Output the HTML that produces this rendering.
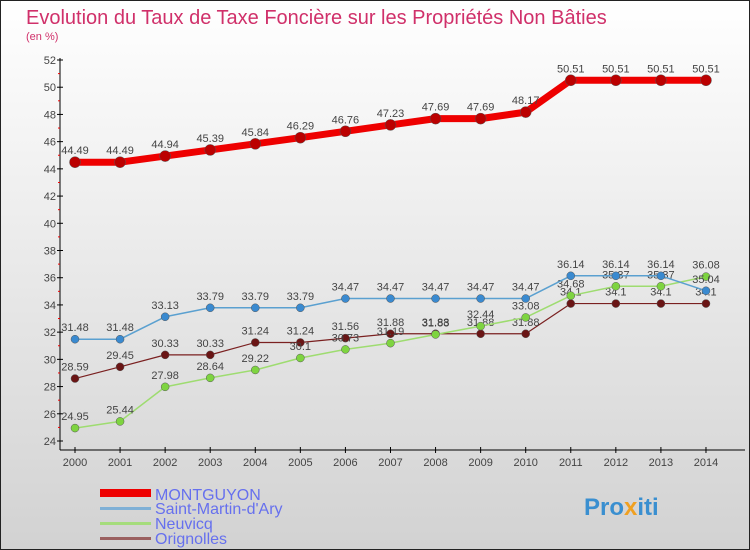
<!DOCTYPE html>
<html><head><meta charset="utf-8"><style>
body{margin:0;width:750px;height:550px;overflow:hidden;font-family:"Liberation Sans",sans-serif}
svg{display:block}
</style></head><body>
<svg id="c" width="750" height="550" xmlns="http://www.w3.org/2000/svg">
<defs><linearGradient id="bg" x1="0" y1="0" x2="0" y2="1"><stop offset="0" stop-color="#ffffff"/><stop offset="1" stop-color="#d2d2d2"/></linearGradient></defs>
<rect x="0.5" y="0.5" width="749" height="549" fill="url(#bg)" stroke="#222"/>
<text x="26" y="24" font-size="20" fill="#d0306a">Evolution du Taux de Taxe Foncière sur les Propriétés Non Bâties</text>
<text x="26" y="40" font-size="11" fill="#d0306a">(en %)</text>
<g id="axes"></g><g id="series"></g>
<g>
<rect x="100" y="489" width="51" height="8" fill="#e00"/>
<text x="155" y="500" font-size="16" fill="#6670ee">MONTGUYON</text>
<rect x="100" y="507" width="51" height="3" fill="#7fb0d6"/>
<text x="155" y="514" font-size="16" fill="#6670ee">Saint-Martin-d'Ary</text>
<rect x="100" y="522" width="51" height="3" fill="#a5dc7c"/>
<text x="155" y="529" font-size="16" fill="#6670ee">Neuvicq</text>
<rect x="100" y="537" width="51" height="3" fill="#9a6060"/>
<text x="155" y="544" font-size="16" fill="#6670ee">Orignolles</text>
</g>
<text x="584" y="515" font-size="24" font-weight="bold" fill="#3a8fd0">Pro<tspan fill="#f0a020">x</tspan>iti</text>
</svg>
<script>
const years=[2000,2001,2002,2003,2004,2005,2006,2007,2008,2009,2010,2011,2012,2013,2014];
const montguyon=[44.49,44.49,44.94,45.39,45.84,46.29,46.76,47.23,47.69,47.69,48.17,50.51,50.51,50.51,50.51];
const saintMartin=[31.48,31.48,33.13,33.79,33.79,33.79,34.47,34.47,34.47,34.47,34.47,36.14,36.14,36.14,35.04];
const neuvicq=[24.95,25.44,27.98,28.64,29.22,30.1,30.73,31.19,31.83,32.44,33.08,34.68,35.37,35.37,36.08];
const orignolles=[28.59,29.45,30.33,30.33,31.24,31.24,31.56,31.88,31.88,31.88,31.88,34.1,34.1,34.1,34.1];
const yTicks=[24,26,28,30,32,34,36,38,40,42,44,46,48,50,52];
const NS="http://www.w3.org/2000/svg";
const X=i=>75+i*45.07, Y=v=>441-(v-24)*(381/28);
function mk(t,a,p){const e=document.createElementNS(NS,t);for(const k in a)e.setAttribute(k,a[k]);p.appendChild(e);return e;}
const ax=document.getElementById('axes');
let l=mk('line',{x1:60,y1:58,x2:60,y2:450,stroke:'#000'},ax);


l=mk('line',{x1:60,y1:450,x2:745,y2:450,stroke:'#000'},ax);


yTicks.forEach((v,i)=>{
  mk('line',{x1:57,x2:63,y1:Y(v),y2:Y(v),stroke:'#000'},ax);
  if(i<yTicks.length-1)mk('line',{x1:58,x2:60,y1:Y(v+1),y2:Y(v+1),stroke:'#e00'},ax);
  const t=mk('text',{x:56,y:Y(v)+4,'font-size':11,'text-anchor':'end',fill:'#444'},ax);t.textContent=v;
  
  
});
years.forEach((y,i)=>{
  mk('line',{x1:X(i),x2:X(i),y1:447,y2:453,stroke:'#000'},ax);
  const t=mk('text',{x:X(i),y:466,'font-size':11,'text-anchor':'middle',fill:'#444'},ax);t.textContent=y;
  
  
});
const sg=document.getElementById('series');
function draw(name,data,color,w,r,dot){
  const g=mk('g',{},sg);
  
  
  const pts=data.map((v,i)=>X(i)+','+Y(v)).join(' ');
  mk('polyline',{points:pts,fill:'none',stroke:color,'stroke-width':w,'stroke-linejoin':'round'},g);
  data.forEach((v,i)=>{
    const c=mk('circle',{cx:X(i),cy:Y(v),r:r,fill:dot,stroke:'#555','stroke-width':0.5},g);
    
    
    const t=mk('text',{x:X(i),y:Y(v)-8,'font-size':11,'text-anchor':'middle',fill:'#444'},g);t.textContent=v;
    
    
  });
}
draw('orignolles',orignolles,'#7a2020',1.2,4,'#6a1515');
draw('neuvicq',neuvicq,'#9edc70',1.5,4,'#7ed440');
draw('saint-martin',saintMartin,'#5aa0d0',1.5,4,'#3a8ad0');
draw('montguyon',montguyon,'#ee0000',7,5.5,'#bb0000');
</script>
</body></html>
